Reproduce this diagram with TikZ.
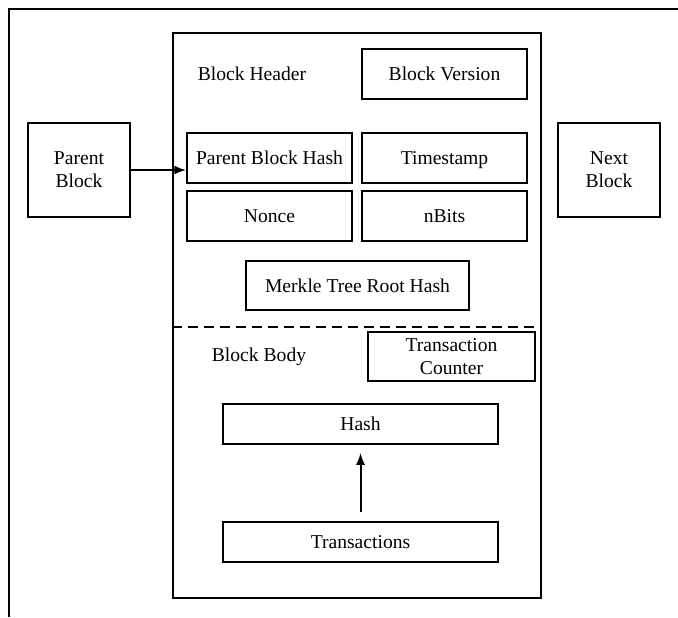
\documentclass[tikz,border=0pt]{standalone}
\usepackage{fontspec}
\setmainfont{Liberation Serif}
\usetikzlibrary{positioning,arrows.meta}

\begin{document}
\begin{tikzpicture}[x=0.5pt, y=-0.5pt,
					font=\fontsize{9.8}{11.5}\selectfont
					]
					\tikzset{
						blkbox/.style={
							shape=rectangle,
							draw=black,
							line width=0.75pt,
							fill=white,
							minimum width=82.5pt,
							minimum height=25pt,
							inner sep=1pt,
							text depth=0pt,
							align=center
						},
						blkside/.style={blkbox, minimum width=51pt, minimum height=47pt},
						blklabel/.style={inner sep=0pt, text depth=0pt},
						blkedge/.style={draw=black, line width=1pt, -{Latex[length=6pt,width=4.5pt]}}
					}
					\useasboundingbox (0,0) rectangle (678,617);
					
					% outer frame (only top and left edges visible)
					\coordinate (fnw) at (9,9);
					\coordinate (fne) at (678,9);
					\coordinate (fsw) at (9,617);
					\draw[line width=0.75pt] (fne) -- (fnw) -- (fsw);
					
					% the block itself
					\node[blkbox, minimum width=184pt, minimum height=282.5pt] (blk) at (357,315.5) {};
					\coordinate (sep) at (0,327);
					\draw[line width=0.75pt, dash pattern=on 5pt off 3pt] (blk.west |- sep) -- (blk.east |- sep);
					
					% header
					\node[blklabel] (hdr) at (252,74) {Block Header};
					\node[blkbox] (ver) at (444.5,74) {Block Version};
					\node[blkbox] (pbh) at (269.5,158) {Parent Block Hash};
					\node[blkbox] (ts) at (444.5,158) {Timestamp};
					\node[blkbox] (nonce) at (269.5,216) {Nonce};
					\node[blkbox] (nbits) at (444.5,216) {nBits};
					\node[blkbox, minimum width=111.5pt, minimum height=24.5pt] (mrk) at (357.5,285.5) {Merkle Tree Root Hash};
					
					% body
					\node[blklabel] (bdy) at (259,355) {Block Body};
					\node[blkbox, minimum width=83.5pt, minimum height=24.5pt] (tc) at (451.5,356.5) {Transaction\\Counter};
					\node[blkbox, minimum width=137.5pt, minimum height=20pt] (hash) at (360.5,424) {Hash};
					\node[blkbox, minimum width=137.5pt, minimum height=20pt] (txs) at (360.5,542) {Transactions};
					
					% neighbours
					\node[blkside] (par) at (79,170) {Parent\\Block};
					\node[blkside] (nxt) at (609,170) {Next\\Block};
					
					\draw[blkedge] (par.east) -- (par.east -| pbh.west);
					\draw[blkedge, shorten <=4.5pt, shorten >=4pt] (txs.north) -- (hash.south);
				\end{tikzpicture}
\end{document}
